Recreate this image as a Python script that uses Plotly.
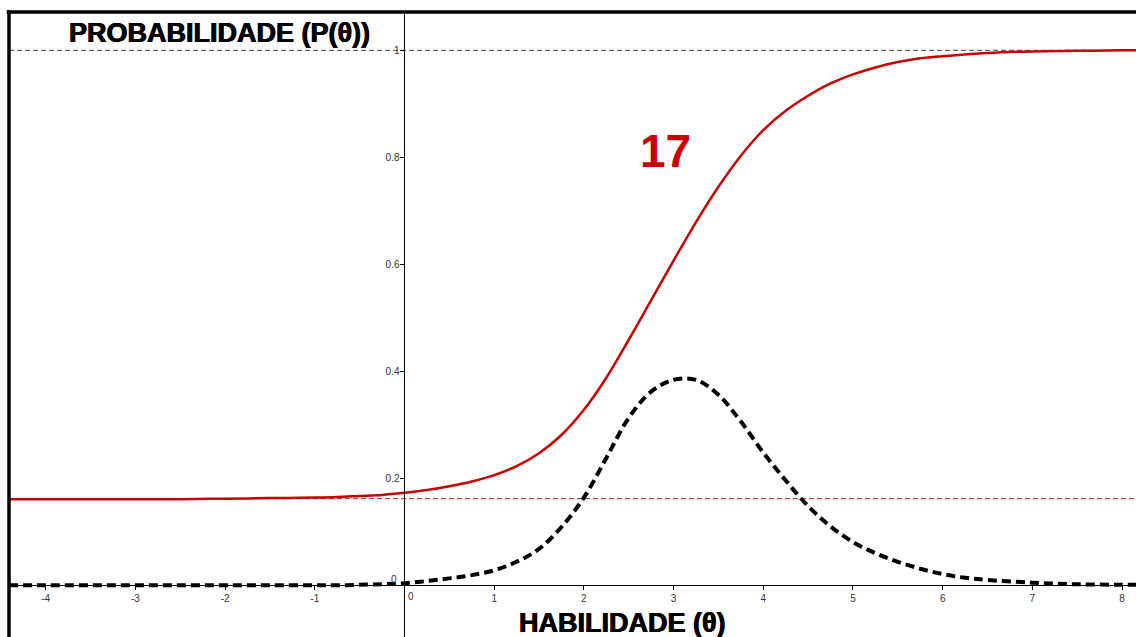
import plotly.graph_objects as go

# ---- data (theta step 0.25 in the curved part) ----
theta_icc = [-4.41, -4, -3.5, -3, -2.5, -2, -1.5, -1, -0.75, -0.5, -0.25, 0, 0.25, 0.5, 0.75,
             1, 1.25, 1.5, 1.75, 2, 2.25, 2.5, 2.75, 3, 3.25, 3.5, 3.75, 4, 4.25,
             4.5, 4.75, 5, 5.25, 5.5, 5.75, 6, 6.5, 7, 7.5, 8, 8.16]
p_icc = [0.161, 0.161, 0.161, 0.161, 0.161, 0.162, 0.163, 0.164, 0.165, 0.167, 0.169, 0.173,
         0.178, 0.185, 0.194, 0.206, 0.223, 0.247, 0.281, 0.328, 0.388, 0.459, 0.533,
         0.607, 0.679, 0.745, 0.803, 0.851, 0.887, 0.915, 0.938, 0.955, 0.968, 0.978,
         0.985, 0.989, 0.995, 0.998, 0.999, 1.0, 1.0]

theta_info = [-4.41, -4, -3.5, -3, -2.5, -2, -1.5, -1, -0.75, -0.5, -0.25, 0, 0.25, 0.5, 0.75,
              1, 1.25, 1.5, 1.75, 2, 2.25, 2.5, 2.75, 3, 3.25, 3.5, 3.75, 4, 4.25,
              4.5, 4.75, 5, 5.25, 5.5, 5.75, 6, 6.25, 6.5, 7, 7.5, 8, 8.16]
info = [0.0, 0.0, 0.0, 0.0, 0.0, 0.0, 0.0, 0.0, 0.0, 0.001, 0.002, 0.004, 0.008, 0.013, 0.019,
        0.028, 0.044, 0.068, 0.109, 0.164, 0.238, 0.313, 0.362, 0.384, 0.384, 0.356,
        0.306, 0.248, 0.196, 0.148, 0.110, 0.081, 0.060, 0.044, 0.031, 0.021, 0.014,
        0.010, 0.005, 0.002, 0.001, 0.001]

c_level = 0.162          # lower asymptote (guessing)
upper_level = 1.0        # upper asymptote
x_ticks = [-4, -3, -2, -1, 1, 2, 3, 4, 5, 6, 7, 8]
y_ticks = [0.2, 0.4, 0.6, 0.8, 1]
y_tick_text = ["0.2", "0.4", "0.6", "0.8", "1"]
item_label = "17"
y_title = "PROBABILIDADE (P(θ))"
x_title = "HABILIDADE (θ)"

x_range = [-4.409, 8.155]
y_range = [-0.0966, 1.0716]

RED = "#CC0000"
FONT = "Liberation Sans, Arial, sans-serif"
TICK_FONT = dict(family=FONT, size=10, color="#333333")
TITLE_SHADOW = "0.4px 0 0 #000, -0.4px 0 0 #000"

fig = go.Figure()

# asymptote guide lines
fig.add_shape(type="line", xref="paper", yref="y", x0=0, x1=1, y0=upper_level, y1=upper_level,
              line=dict(color="#444444", width=1, dash="5px,3px"), layer="below")
fig.add_shape(type="line", xref="paper", yref="y", x0=0, x1=1, y0=c_level, y1=c_level,
              line=dict(color="#B22222", width=1, dash="5px,3px"), layer="below")

fig.add_trace(go.Scatter(x=theta_info, y=info, mode="lines",
                         line=dict(color="black", width=4, dash="9px,5px", shape="spline",
                                   smoothing=1),
                         hoverinfo="skip", showlegend=False))
fig.add_trace(go.Scatter(x=theta_icc, y=p_icc, mode="lines",
                         line=dict(color=RED, width=2.5, shape="spline", smoothing=1),
                         hoverinfo="skip", showlegend=False))

x_pos = (0 - x_range[0]) / (x_range[1] - x_range[0])
y_pos = (0 - y_range[0]) / (y_range[1] - y_range[0])

fig.update_layout(
    width=1136, height=637,
    margin=dict(l=9, r=0, t=12, b=0),
    paper_bgcolor="white", plot_bgcolor="white",
    showlegend=False,
    xaxis=dict(range=x_range, tickvals=x_ticks, ticktext=[str(v) for v in x_ticks],
               ticks="outside", ticklen=4, tickwidth=1, tickcolor="black",
               showline=True, linecolor="black", linewidth=1,
               showgrid=False, zeroline=False, anchor="free", position=y_pos,
               tickfont=TICK_FONT, fixedrange=True),
    yaxis=dict(range=y_range, tickvals=y_ticks, ticktext=y_tick_text,
               ticks="outside", ticklen=4, tickwidth=1, tickcolor="black",
               showline=True, linecolor="black", linewidth=1,
               showgrid=False, zeroline=False, anchor="free", position=x_pos,
               ticklabelstandoff=-1,
               tickfont=TICK_FONT, fixedrange=True),
)

# zero tick labels (GeoGebra style)
fig.add_annotation(x=0, y=0, xref="x", yref="y", text="0", showarrow=False,
                   xshift=7, yshift=-11, font=TICK_FONT)
fig.add_annotation(x=0, y=0, xref="x", yref="y", text="0", showarrow=False,
                   xshift=-10, yshift=6, font=TICK_FONT)

# titles and label
fig.add_annotation(x=0.1872, y=0.9672, xref="paper", yref="paper", text="<b>" + y_title + "</b>",
                   showarrow=False, xanchor="center", yanchor="middle",
                   font=dict(family=FONT, size=27, color="black", shadow=TITLE_SHADOW))
fig.add_annotation(x=0.5444, y=0.0224, xref="paper", yref="paper", text="<b>" + x_title + "</b>",
                   showarrow=False, xanchor="center", yanchor="middle",
                   font=dict(family=FONT, size=27, color="black", shadow=TITLE_SHADOW))
fig.add_annotation(x=0.5825, y=0.778, xref="paper", yref="paper", text="<b>" + item_label + "</b>",
                   showarrow=False, xanchor="center", yanchor="middle",
                   font=dict(family=FONT, size=46, color=RED))

# thick frame (left and top)
fig.add_shape(type="line", xref="paper", yref="paper", x0=0, x1=0, y0=-0.05, y1=1.003,
              line=dict(color="black", width=3.5), layer="above")
fig.add_shape(type="line", xref="paper", yref="paper", x0=-0.002, x1=1.05, y0=1, y1=1,
              line=dict(color="black", width=3.5), layer="above")

fig.write_html("out.html", config={"displayModeBar": False})
